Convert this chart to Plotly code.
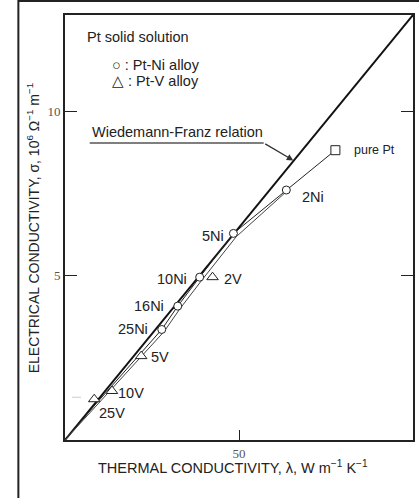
import plotly.graph_objects as go

# ---- data ----
ni_labels = ["2Ni", "5Ni", "10Ni", "16Ni", "25Ni"]
ni_lambda = [63.6, 48.4, 38.7, 32.4, 27.8]
ni_sigma = [7.6, 6.28, 4.95, 4.07, 3.36]

v_labels = ["2V", "5V", "10V", "25V"]
v_lambda = [42.4, 21.9, 13.5, 8.4]
v_sigma = [4.95, 2.55, 1.49, 1.24]

pt_lambda = [77.7]
pt_sigma = [8.81]

# Wiedemann-Franz relation line
wf_lambda = [0, 100]
wf_sigma = [0, 12.92]

# fitted curves through alloy points (two close thin lines)
curve_a_lambda = [77.7, 63.6, 48.4, 38.7, 32.4, 27.8, 8.9, 0]
curve_a_sigma = [8.81, 7.6, 6.28, 4.95, 4.07, 3.36, 1.1, 0]
curve_b_lambda = [63.6, 49.2, 39.4, 33.1, 28.5, 9.5, 0]
curve_b_sigma = [7.55, 6.18, 4.87, 4.0, 3.3, 1.08, 0]

# pointer for the Wiedemann-Franz label
wf_ptr_lambda = [7.1, 57.1]
wf_ptr_sigma = [9.03, 9.03]
wf_tip = (65.6, 8.5)

faint_lambda = [2.0, 7.0]
faint_sigma = [1.3, 1.3]

FONT = "Liberation Sans, Arial, sans-serif"
SERIF = "Liberation Serif, Times New Roman, serif"

fig = go.Figure()

fig.add_trace(go.Scatter(x=wf_lambda, y=wf_sigma, mode="lines",
                         line=dict(color="#111", width=2), hoverinfo="skip"))
fig.add_trace(go.Scatter(x=curve_a_lambda, y=curve_a_sigma, mode="lines",
                         line=dict(color="#222", width=1), hoverinfo="skip"))
fig.add_trace(go.Scatter(x=curve_b_lambda, y=curve_b_sigma, mode="lines",
                         line=dict(color="#444", width=1), hoverinfo="skip"))
fig.add_trace(go.Scatter(x=wf_ptr_lambda, y=wf_ptr_sigma, mode="lines",
                         line=dict(color="#555", width=1.5), hoverinfo="skip"))
fig.add_trace(go.Scatter(x=faint_lambda, y=faint_sigma, mode="lines",
                         line=dict(color="#ccc", width=1, dash="dash"), hoverinfo="skip"))

fig.add_trace(go.Scatter(x=ni_lambda, y=ni_sigma, mode="markers",
                         marker=dict(symbol="circle", size=8, color="white",
                                     line=dict(color="#222", width=1))))
fig.add_trace(go.Scatter(x=v_lambda, y=v_sigma, mode="markers",
                         marker=dict(symbol="triangle-up", size=10, color="white",
                                     line=dict(color="#222", width=1))))
fig.add_trace(go.Scatter(x=pt_lambda, y=pt_sigma, mode="markers",
                         marker=dict(symbol="square", size=9, color="white",
                                     line=dict(color="#222", width=1))))

ann = []
def txt(x, y, s, xanchor="left", size=14.5):
    ann.append(dict(x=x, y=y, xref="x", yref="y", text=s, showarrow=False,
                    xanchor=xanchor, yanchor="middle",
                    font=dict(family=FONT, size=size, color="#222")))

txt(5.75, 12.26, "Pt solid solution")
txt(12.9, 11.41, "○ : Pt-Ni alloy")
txt(12.9, 10.9, "△ : Pt-V alloy")
txt(7.2, 9.35, "Wiedemann-Franz relation")
txt(82.5, 8.83, "pure Pt", size=12.5)

ni_offsets = [(67.5, 7.4, "left"), (46.3, 6.19, "right"), (35.6, 4.89, "right"),
              (29.0, 4.07, "right"), (24.4, 3.37, "right")]
for lab, (x, y, a) in zip(ni_labels, ni_offsets):
    txt(x, y, lab, a)
v_offsets = [(45.1, 4.89, "left"), (24.1, 2.52, "left"), (14.6, 1.43, "left"),
             (9.3, 0.82, "left")]
for lab, (x, y, a) in zip(v_labels, v_offsets):
    txt(x, y, lab, a)

ann.append(dict(x=wf_tip[0], y=wf_tip[1], ax=wf_ptr_lambda[1], ay=wf_ptr_sigma[1],
                xref="x", yref="y", axref="x", ayref="y", text="", showarrow=True,
                arrowhead=2, arrowsize=1, arrowwidth=1.3, arrowcolor="#333"))

ann.append(dict(x=0.483, y=-0.0635, xref="paper", yref="paper",
                text="THERMAL CONDUCTIVITY, λ, W m<sup>−1</sup> K<sup>−1</sup>",
                showarrow=False, xanchor="center", yanchor="middle",
                font=dict(family=FONT, size=14.5, color="#222")))
ann.append(dict(x=-0.091, y=0.499, xref="paper", yref="paper", textangle=-90,
                text="ELECTRICAL CONDUCTIVITY, σ, 10<sup>6</sup> Ω<sup>−1</sup> m<sup>−1</sup>",
                showarrow=False, xanchor="center", yanchor="middle",
                font=dict(family=FONT, size=14, color="#222")))

fig.update_layout(
    width=419, height=498,
    margin=dict(l=65, r=4, t=15, b=58),
    paper_bgcolor="white", plot_bgcolor="white",
    showlegend=False,
    annotations=ann,
    shapes=[dict(type="rect", xref="paper", yref="paper",
                 x0=-0.134, x1=1.05, y0=1.033, y1=-0.2,
                 line=dict(color="#222", width=2), layer="below")],
    xaxis=dict(range=[0, 100], tickvals=[50, 100], ticktext=["50", "100"],
               ticks="inside", ticklen=10, tickcolor="#222", showgrid=False,
               zeroline=False, showline=True, linecolor="#222", linewidth=2,
               mirror=True, tickfont=dict(family=SERIF, size=13, color="#555")),
    yaxis=dict(range=[0, 12.92], tickvals=[5, 10], ticktext=["5", "10"],
               ticks="inside", ticklen=12, tickcolor="#222", showgrid=False,
               zeroline=False, showline=True, linecolor="#222", linewidth=2,
               mirror="allticks", tickfont=dict(family=SERIF, size=13, color="#555")),
)

fig.write_html("out.html")
